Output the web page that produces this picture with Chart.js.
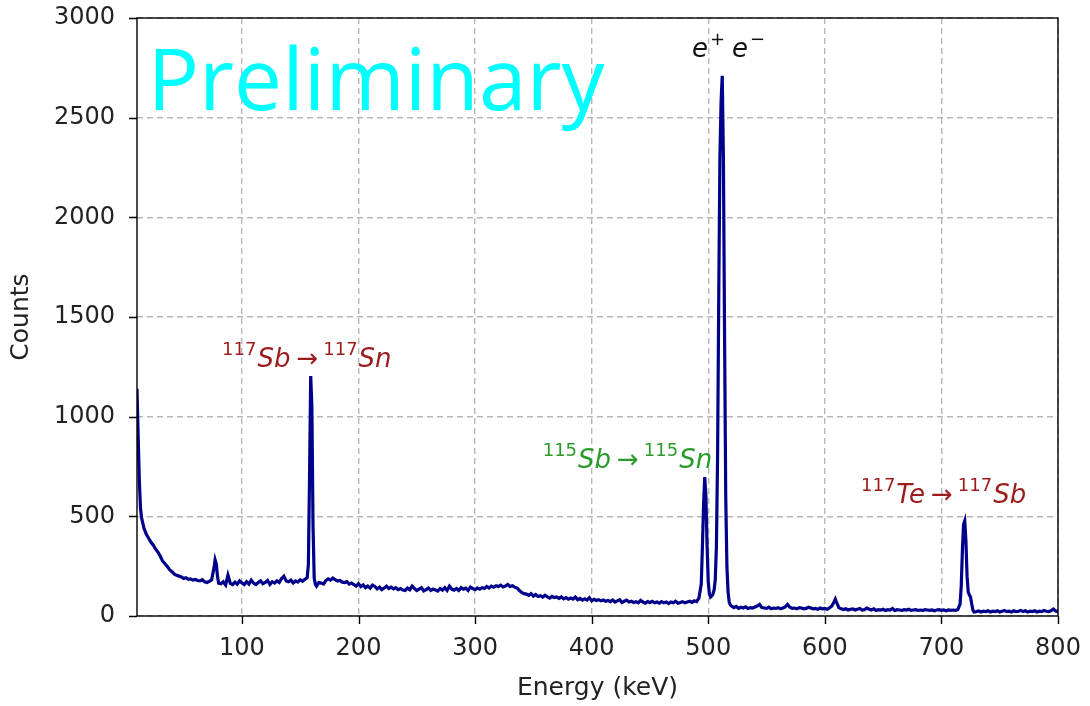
<!DOCTYPE html>
<html>
<head>
<meta charset="utf-8">
<script src="https://cdn.jsdelivr.net/npm/chart.js@4.4.1/dist/chart.umd.min.js"></script>
<style>
  html, body { margin: 0; padding: 0; background: #fff; }
  #wrap { width: 1090px; height: 706px; }
</style>
</head>
<body>
<div id="wrap"><canvas id="myChart" width="1090" height="706"></canvas></div>
<script>
// spectrum (keV, counts)
const energy = [
  10, 11, 12, 13, 14, 16, 18, 20, 22, 24, 26, 28, 30, 32, 34, 36, 38, 40, 42, 44,
  46, 48, 50, 52, 54, 56, 58, 60, 62, 64, 66, 68, 70, 72, 74, 76, 77, 78, 79, 80,
  82, 84, 86, 88, 90, 92, 94, 96, 98, 100, 102, 104, 106, 108, 110, 112, 114, 116, 118, 120,
  122, 124, 126, 128, 130, 132, 134, 136, 138, 140, 142, 144, 146, 148, 150, 152, 154, 156, 157, 158,
  159, 160, 161, 162, 163, 164, 166, 168, 170, 172, 174, 176, 178, 180, 182, 184, 186, 188, 190, 192,
  194, 196, 198, 200, 202, 204, 206, 208, 210, 212, 214, 216, 218, 220, 222, 224, 226, 228, 230, 232,
  234, 236, 238, 240, 242, 244, 246, 248, 250, 252, 254, 256, 258, 260, 262, 264, 266, 268, 270, 272,
  274, 276, 278, 280, 282, 284, 286, 288, 290, 292, 294, 296, 298, 300, 302, 304, 306, 308, 310, 312,
  314, 316, 318, 320, 322, 324, 326, 328, 330, 332, 334, 336, 338, 340, 342, 344, 346, 348, 350, 352,
  354, 356, 358, 360, 362, 364, 366, 368, 370, 372, 374, 376, 378, 380, 382, 384, 386, 388, 390, 392,
  394, 396, 398, 400, 402, 404, 406, 408, 410, 412, 414, 416, 418, 420, 422, 424, 426, 428, 430, 432,
  434, 436, 438, 440, 442, 444, 446, 448, 450, 452, 454, 456, 458, 460, 462, 464, 466, 468, 470, 472,
  474, 476, 478, 480, 482, 484, 486, 488, 490, 492, 494, 495, 496, 497, 498, 499, 500, 501, 502, 503,
  504, 505, 506, 507, 508, 509, 510, 511, 512, 513, 514, 515, 516, 517, 518, 519, 520, 522, 524, 526,
  528, 530, 532, 534, 536, 538, 540, 542, 544, 546, 548, 550, 552, 554, 556, 558, 560, 562, 564, 566,
  568, 570, 572, 574, 576, 578, 580, 582, 584, 586, 588, 590, 592, 594, 596, 598, 600, 602, 604, 606,
  608, 609, 610, 612, 614, 616, 618, 620, 622, 624, 626, 628, 630, 632, 634, 636, 638, 640, 642, 644,
  646, 648, 650, 652, 654, 656, 658, 660, 662, 664, 666, 668, 670, 672, 674, 676, 678, 680, 682, 684,
  686, 688, 690, 692, 694, 696, 698, 700, 702, 704, 706, 708, 710, 712, 714, 716, 717, 718, 719, 720,
  721, 722, 723, 724, 725, 726, 727, 728, 730, 732, 734, 736, 738, 740, 742, 744, 746, 748, 750, 752,
  754, 756, 758, 760, 762, 764, 766, 768, 770, 772, 774, 776, 778, 780, 782, 784, 786, 788, 790, 792,
  794, 796, 798, 800
];
const counts = [
  1140, 900, 680, 540, 490, 440, 410, 390, 370, 355, 335, 320, 300, 275, 262, 248, 232, 222, 210, 204,
  200, 196, 188, 192, 184, 186, 180, 183, 178, 176, 182, 172, 168, 174, 182, 240, 282, 262, 200, 165,
  162, 172, 156, 205, 164, 158, 170, 160, 176, 166, 158, 172, 160, 180, 165, 158, 168, 176, 162, 168,
  178, 158, 172, 165, 176, 168, 188, 200, 176, 172, 180, 166, 176, 170, 182, 174, 184, 192, 260, 700,
  1204, 1050, 450, 190, 160, 150, 168, 165, 160, 178, 186, 180, 190, 182, 175, 178, 170, 168, 172, 160,
  165, 158, 150, 162, 148, 156, 142, 150, 140, 155, 148, 136, 145, 132, 140, 150, 138, 145, 136, 142,
  132, 138, 130, 128, 140, 132, 150, 138, 128, 135, 142, 126, 132, 140, 128, 135, 130, 125, 138, 130,
  142, 128, 150, 135, 130, 138, 128, 142, 135, 140, 128, 145, 138, 132, 140, 135, 142, 138, 148, 140,
  150, 145, 152, 148, 155, 146, 150, 158, 148, 152, 145, 140, 128, 118, 112, 110, 104, 112, 100, 108,
  98, 102, 95, 104, 96, 90, 98, 92, 95, 88, 96, 86, 92, 84, 90, 85, 95, 82, 88, 80,
  86, 80, 92, 76, 84, 78, 82, 76, 80, 74, 78, 72, 80, 70, 76, 82, 68, 74, 80, 70,
  74, 68, 72, 66, 78, 70, 64, 72, 68, 74, 66, 70, 64, 72, 66, 70, 62, 70, 66, 74,
  64, 68, 72, 66, 70, 74, 68, 76, 72, 90, 160, 350, 560, 697, 600, 350, 170, 110, 95, 100,
  110, 130, 180, 350, 800, 1600, 2300, 2580, 2710, 2300, 1400, 600, 250, 120, 70, 55, 50, 42, 48, 38,
  44, 40, 46, 38, 42, 40, 45, 50, 58, 42, 40, 38, 44, 36, 40, 38, 42, 36, 40, 46,
  58, 44, 38, 40, 36, 42, 40, 36, 38, 44, 40, 36, 38, 34, 40, 36, 38, 34, 40, 50,
  72, 85, 70, 42, 36, 32, 36, 30, 34, 36, 30, 34, 38, 30, 32, 40, 34, 30, 36, 28,
  32, 30, 34, 28, 32, 30, 38, 28, 32, 30, 28, 32, 30, 34, 28, 30, 32, 28, 30, 28,
  32, 30, 28, 30, 26, 30, 32, 28, 30, 26, 30, 28, 30, 28, 32, 60, 150, 330, 460, 477,
  380, 200, 120, 105, 95, 60, 30, 20, 22, 25, 20, 24, 22, 26, 20, 24, 22, 26, 20, 24,
  28, 22, 24, 20, 26, 22, 24, 28, 22, 26, 20, 24, 22, 26, 20, 24, 22, 28, 24, 22,
  26, 35, 25, 22
];

const xTicks = [100, 200, 300, 400, 500, 600, 700, 800];
const yTicks = [0, 500, 1000, 1500, 2000, 2500, 3000];

// peak labels: anchor (keV, counts) of the left end of the text baseline
const peakLabels = [
  { at: [83, 1249], color: '#9b1c1c', runs: [['117', 'sup'], ['Sb', 'it'], ['→', 'op'], ['117', 'sup'], ['Sn', 'it']] },
  { at: [358, 743], color: '#2a9a2a', runs: [['115', 'sup'], ['Sb', 'it'], ['→', 'op'], ['115', 'sup'], ['Sn', 'it']] },
  { at: [631, 567], color: '#9b1c1c', runs: [['117', 'sup'], ['Te', 'it'], ['→', 'op'], ['117', 'sup'], ['Sb', 'it']] },
  { at: [486, 2804], color: '#111111', runs: [['e', 'it'], ['+', 'sup'], ['', 'gap'], ['e', 'it'], ['−', 'sup']] }
];

const FONT = "'DejaVu Sans', sans-serif";

const framePlugin = {
  id: 'frame',
  afterDatasetsDraw(chart) {
    const ctx = chart.ctx;
    const xs = chart.scales.x, ys = chart.scales.y;
    const a = chart.chartArea;

    // "Preliminary" watermark
    ctx.save();
    let size = 86;
    ctx.font = size + "px 'Open Sans', sans-serif";
    const w = ctx.measureText('Preliminary').width;
    size = size * 457 / w;
    ctx.font = size + "px 'Open Sans', sans-serif";
    ctx.fillStyle = '#00ffff';
    ctx.textBaseline = 'alphabetic';
    ctx.fillText('Preliminary', xs.getPixelForValue(19), ys.getPixelForValue(2540));
    ctx.restore();

    // peak labels
    peakLabels.forEach(lab => {
      let x = xs.getPixelForValue(lab.at[0]);
      const y = ys.getPixelForValue(lab.at[1]);
      ctx.save();
      ctx.fillStyle = lab.color;
      ctx.textBaseline = 'alphabetic';
      lab.runs.forEach(([t, kind]) => {
        if (kind === 'sup') {
          ctx.font = '18px ' + FONT;
          ctx.fillText(t, x, y - 12);
          x += ctx.measureText(t).width + 1;
        } else if (kind === 'it') {
          ctx.font = 'italic 26px ' + FONT;
          ctx.fillText(t, x, y);
          x += ctx.measureText(t).width + 2;
        } else if (kind === 'gap') {
          x += 6;
        } else {
          ctx.font = '26px ' + FONT;
          x += 4;
          ctx.fillText(t, x, y);
          x += ctx.measureText(t).width + 5;
        }
      });
      ctx.restore();
    });

    // axes frame and outward tick marks
    ctx.save();
    ctx.strokeStyle = '#000';
    ctx.lineWidth = 1.4;
    ctx.strokeRect(a.left, a.top, a.right - a.left, a.bottom - a.top);
    ctx.beginPath();
    xTicks.forEach(v => {
      const px = Math.round(xs.getPixelForValue(v)) + 0.5;
      ctx.moveTo(px, a.bottom);
      ctx.lineTo(px, a.bottom + 8);
    });
    yTicks.forEach(v => {
      const py = Math.round(ys.getPixelForValue(v)) + 0.5;
      ctx.moveTo(a.left, py);
      ctx.lineTo(a.left - 8, py);
    });
    ctx.stroke();
    ctx.restore();
  }
};

const data = {
  datasets: [{
    label: 'Counts',
    data: energy.map((e, i) => ({ x: e, y: counts[i] })),
    borderColor: '#00008b',
    borderWidth: 3.2,
    pointRadius: 0,
    tension: 0,
    fill: false
  }]
};

const config = {
  type: 'line',
  data: data,
  options: {
    responsive: false,
    animation: false,
    devicePixelRatio: 1,
    layout: { padding: { top: 18, right: 32, left: 0, bottom: 0 } },
    plugins: {
      legend: { display: false },
      tooltip: { enabled: false }
    },
    scales: {
      x: {
        type: 'linear',
        min: 10,
        max: 800,
        afterBuildTicks: s => { s.ticks = xTicks.map(v => ({ value: v })); },
        afterFit: s => { s.height = 90; s.paddingLeft = 0; s.paddingRight = 0; },
        grid: { color: '#b8b8b8', lineWidth: 1.4, drawTicks: false },
        border: { display: false, dash: [6, 4] },
        ticks: { color: '#222', font: { family: FONT, size: 24 }, padding: 18, maxRotation: 0, callback: v => String(v) },
        title: { display: true, text: 'Energy (keV)', color: '#222', font: { family: FONT, size: 25 }, padding: { top: 0, bottom: 3 } }
      },
      y: {
        min: 0,
        max: 3000,
        afterBuildTicks: s => { s.ticks = yTicks.map(v => ({ value: v })); },
        afterFit: s => { s.width = 137; s.paddingTop = 0; s.paddingBottom = 0; },
        grid: { color: '#b8b8b8', lineWidth: 1.4, drawTicks: false },
        border: { display: false, dash: [6, 4] },
        ticks: { color: '#222', font: { family: FONT, size: 24 }, padding: 22, callback: v => String(v) },
        title: { display: true, text: 'Counts', color: '#222', font: { family: FONT, size: 25 }, padding: { top: 6, bottom: 0 } }
      }
    }
  },
  plugins: [framePlugin]
};

const ctx = document.getElementById('myChart').getContext('2d');
const myChart = new Chart(ctx, config);
</script>
</body>
</html>
